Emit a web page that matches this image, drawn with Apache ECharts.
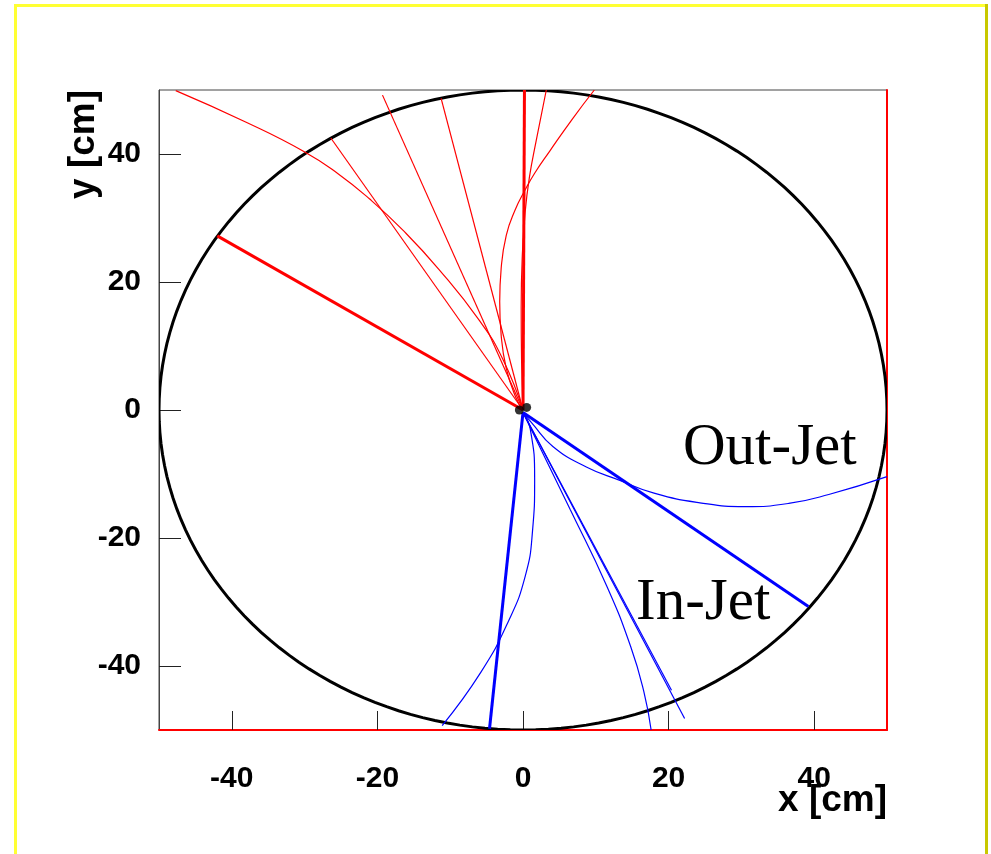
<!DOCTYPE html>
<html><head><meta charset="utf-8">
<script src="https://cdn.jsdelivr.net/npm/echarts@6/dist/echarts.min.js"></script>
<style>html,body{margin:0;padding:0;background:#fff}#c{width:991px;height:854px}</style>
</head><body><div id="c"></div>
<script>
// ---- data (cm) ----
const xTicks = [-40, -20, 0, 20, 40];
const yTicks = [-40, -20, 0, 20, 40];
const detectorCircle = [[0, 0, 50]]; // centre x, centre y, radius
const vertexPoints = [[-0.5, 0.0], [0.5, 0.4]];

// red (upper) tracks
const redThickA = [[0, 0], [-42.0, 27.2]];
const redThickB = [[0, 0], [0.2, 50]];
const redCurveA = [[0, 0], [-2.8, 8.0], [-6.0, 14.0], [-11.5, 21.9], [-16.5, 28.1], [-21.1, 33.0], [-25.5, 37.0], [-30.1, 40.4], [-38.1, 45.0], [-47.7, 49.9]];
const redLineA = [[0, 0], [-26.4, 42.5]];
const redLineB = [[0, 0], [-19.3, 49.2]];
const redLineC = [[0, 0], [-11.25, 48.7]];
const redCurveB = [[0, 0], [-0.2, 8], [-0.25, 16], [-0.1, 24], [0.3, 31], [0.9, 36.5], [1.8, 42], [3.2, 50]];
const redCurveC = [[0, 0], [-1.0, 2.0], [-2.3, 6.5], [-3.0, 11.7], [-3.2, 16.9], [-3.0, 22.1], [-2.3, 27.3], [-1.1, 31.2], [0.3, 34.4], [1.6, 37.0], [3.7, 40.5], [6.8, 45.5], [9.8, 50.0]];

// blue (lower) tracks
const blueThickA = [[0, -0.4], [39.2, -30.7]];
const blueThickB = [[0, -0.4], [-4.6, -49.8]];
const blueOutJet = [[0, -0.4], [1.2, -2.0], [4.1, -5.7], [8.7, -8.9], [13.3, -11.0], [18.0, -13.0], [24.3, -14.5], [30.5, -15.1], [36.5, -14.6], [42.0, -13.2], [50.0, -10.4]];
const blueInJetA = [[0, -0.4], [22.2, -48.2]];
const blueInJetB = [[0, -0.4], [20.4, -43.8]];
const blueInJetC = [[0, -0.4], [6.5, -15.6], [11.5, -27.5], [14.8, -37.0], [16.6, -44.0], [17.6, -50]];
const blueCurveDown = [[0, -0.4], [1.0, -3.0], [1.6, -10.9], [1.3, -19.0], [0.3, -26.0], [-2.0, -33.0], [-5.8, -41.0], [-11.1, -49.3]];

// ---- chart ----
const RED = '#ff0000', BLUE = '#0000ff';
const LABEL_FONT = "'Liberation Sans',Arial,sans-serif";
function track(data, color, width, smooth) {
  return { type: 'line', data: data, symbol: 'none', smooth: smooth ? 0.5 : false,
    lineStyle: { color: color, width: width }, silent: true, z: 4, clip: true };
}
const chart = echarts.init(document.getElementById('c'), null, { renderer: 'canvas' });
chart.setOption({
  animation: false,
  backgroundColor: '#ffffff',
  grid: { left: 159, top: 90, width: 728, height: 640, show: true, borderColor: '#444', borderWidth: 1, backgroundColor: 'transparent' },
  xAxis: [{
    type: 'value', min: -50, max: 50, position: 'bottom',
    axisLine: { show: true, onZero: false, lineStyle: { color: RED, width: 2 } },
    axisTick: { show: true, inside: true, length: 19, customValues: xTicks, lineStyle: { color: '#222', width: 1 } },
    axisLabel: { customValues: xTicks, fontSize: 30, fontWeight: 'bold', fontFamily: LABEL_FONT, color: '#000', margin: 34 },
    splitLine: { show: false }
  }],
  yAxis: [{
    type: 'value', min: -50, max: 50, position: 'left',
    axisLine: { show: true, onZero: false, lineStyle: { color: '#444', width: 1 } },
    axisTick: { show: true, inside: true, length: 22, customValues: yTicks, lineStyle: { color: '#222', width: 1 } },
    axisLabel: { customValues: yTicks, fontSize: 30, fontWeight: 'bold', fontFamily: LABEL_FONT, color: '#000', margin: 18 },
    splitLine: { show: false }
  }, {
    type: 'value', min: -50, max: 50, position: 'right',
    axisLine: { show: true, onZero: false, lineStyle: { color: RED, width: 2 } },
    axisTick: { show: false }, axisLabel: { show: false }, splitLine: { show: false }
  }],
  series: [
    { type: 'custom', data: detectorCircle, z: 3, silent: true, clip: true,
      renderItem: function (params, api) {
        const cx = api.value(0), cy = api.value(1), r = api.value(2);
        const pts = [];
        for (let i = 0; i <= 360; i += 2) {
          const t = i * Math.PI / 180;
          pts.push(api.coord([cx + r * Math.cos(t), cy + r * Math.sin(t)]));
        }
        return { type: 'polygon', shape: { points: pts }, style: { fill: 'none', stroke: '#000', lineWidth: 3 } };
      } },
    track(redCurveA, RED, 1.2, true),
    track(redLineA, RED, 1.2, false),
    track(redLineB, RED, 1.2, false),
    track(redLineC, RED, 1.2, false),
    track(redCurveB, RED, 1.2, true),
    track(redCurveC, RED, 1.2, true),
    track(redThickA, RED, 3, false),
    track(redThickB, RED, 3, false),
    track(blueOutJet, BLUE, 1.2, true),
    track(blueInJetA, BLUE, 1.2, false),
    track(blueInJetB, BLUE, 1.2, false),
    track(blueInJetC, BLUE, 1.2, true),
    track(blueCurveDown, BLUE, 1.2, true),
    track(blueThickA, BLUE, 3, false),
    track(blueThickB, BLUE, 3, false),
    { type: 'scatter', data: vertexPoints, symbol: 'circle', symbolSize: 9, itemStyle: { color: '#000' }, z: 5, silent: true }
  ],
  graphic: [
    { type: 'line', shape: { x1: 15.5, y1: 5, x2: 15.5, y2: 854 }, style: { stroke: '#ffff33', lineWidth: 3 } },
    { type: 'line', shape: { x1: 14, y1: 5.5, x2: 986, y2: 5.5 }, style: { stroke: '#ffff33', lineWidth: 3 } },
    { type: 'line', shape: { x1: 986.5, y1: 4, x2: 986.5, y2: 854 }, style: { stroke: '#c8c800', lineWidth: 3 } },
    { type: 'text', x: 887, y: 801, style: { text: 'x [cm]', font: "bold 37px " + LABEL_FONT, fill: '#000', align: 'right', verticalAlign: 'middle' } },
    { type: 'text', x: 84, y: 90, rotation: Math.PI / 2, style: { text: 'y [cm]', font: "bold 37px " + LABEL_FONT, fill: '#000', align: 'right', verticalAlign: 'middle' } },
    { type: 'text', x: 683, y: 448, style: { text: 'Out-Jet', font: "59px 'Liberation Serif','Times New Roman',serif", fill: '#000', align: 'left', verticalAlign: 'middle' } },
    { type: 'text', x: 636, y: 603, style: { text: 'In-Jet', font: "59px 'Liberation Serif','Times New Roman',serif", fill: '#000', align: 'left', verticalAlign: 'middle' } }
  ]
});
</script></body></html>
